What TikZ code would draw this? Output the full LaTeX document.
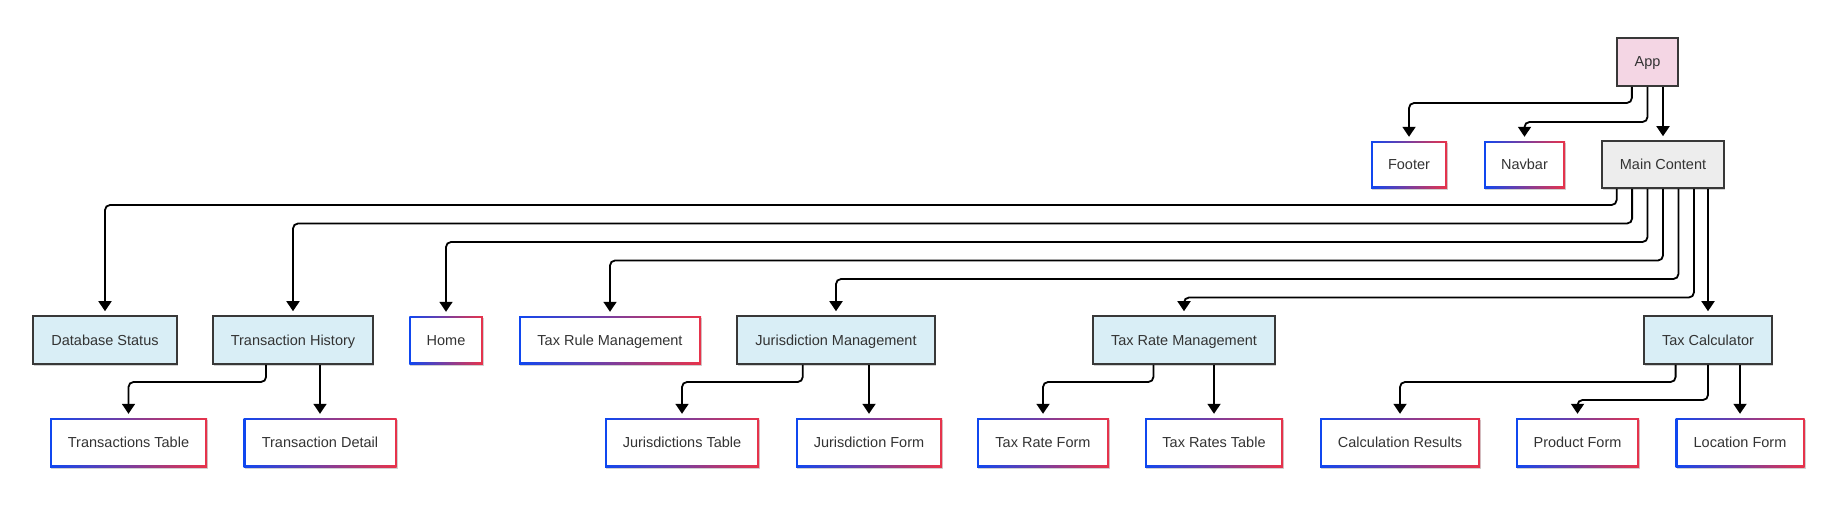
\documentclass[tikz,border=0pt]{standalone}
\usepackage{fontspec}
\setmainfont{Liberation Sans}
\usetikzlibrary{calc,arrows.meta,shadows}
\definecolor{bord}{HTML}{383838}
\definecolor{txt}{HTML}{333333}
\definecolor{appfill}{HTML}{F4D6E4}
\definecolor{mainfill}{HTML}{EDEDED}
\definecolor{pagefill}{HTML}{D9EEF6}
\definecolor{gblue}{HTML}{0F47F0}
\definecolor{gred}{HTML}{E8334A}
\tikzset{
  box/.style={rectangle, inner sep=0pt, font=\fontsize{14.5}{17}\selectfont, text=txt,
    text height=13.1pt, text depth=3.1pt},
  solidbox/.style={box, draw=bord, line width=1.6pt,
    drop shadow={shadow xshift=1pt, shadow yshift=-1.5pt, opacity=0.18, fill=black}},
  appbox/.style={solidbox, fill=appfill},
  mainbox/.style={solidbox, fill=mainfill},
  pagebox/.style={solidbox, fill=pagefill},
  gbox/.style={box, fill=white,
    drop shadow={shadow xshift=1pt, shadow yshift=-1.5pt, opacity=0.18, fill=black},
    path picture={
      \shade[left color=gblue, right color=gred]
        (path picture bounding box.south west) rectangle (path picture bounding box.north east);
      \fill[white] ([shift={(2pt,2pt)}]path picture bounding box.south west)
        rectangle ([shift={(-2pt,-2pt)}]path picture bounding box.north east);
    }},
  conn/.style={draw=black, line width=1.8pt, rounded corners=5pt,
    -{Triangle[length=10pt,width=13pt]}, shorten >=4pt}
}
\newcommand{\mylink}[5]{%
  \draw[conn] let \p1=($(#1.south west)!#2/#3!(#1.south east)$), \p2=(#5.north) in
    (\p1) -- (\x1,-#4pt) -- (\x2,-#4pt) -- (\p2);}
\begin{document}
\begin{tikzpicture}[x=1pt,y=-1pt]
\fill[white] (0,0) rectangle (1846,524);
\useasboundingbox (0,0) rectangle (1846,524);
% row A
\node[appbox, minimum width=61pt, minimum height=48pt] (app) at (1647.5,62) {App};
% row B
\node[gbox, minimum width=76pt, minimum height=47pt] (footer) at (1409,164.5) {Footer};
\node[gbox, minimum width=81pt, minimum height=47pt] (navbar) at (1524.5,164.5) {Navbar};
\node[mainbox, minimum width=122pt, minimum height=47pt] (main) at (1663,164.5) {Main Content};
% row C
\node[pagebox, minimum width=144pt, minimum height=48pt] (dbs) at (105,340) {Database Status};
\node[pagebox, minimum width=160pt, minimum height=48pt] (th) at (293,340) {Transaction History};
\node[gbox, minimum width=73.5pt, minimum height=48pt] (home) at (446,340) {Home};
\node[gbox, minimum width=182pt, minimum height=48pt] (trm) at (610,340) {Tax Rule Management};
\node[pagebox, minimum width=198pt, minimum height=48pt] (jm) at (836,340) {Jurisdiction Management};
\node[pagebox, minimum width=182pt, minimum height=48pt] (trate) at (1184,340) {Tax Rate Management};
\node[pagebox, minimum width=128pt, minimum height=48pt] (tc) at (1708,340) {Tax Calculator};
% row D
\node[gbox, minimum width=157pt, minimum height=49pt] (tt) at (128.5,442.5) {Transactions Table};
\node[gbox, minimum width=153pt, minimum height=49pt] (td) at (320,442.5) {Transaction Detail};
\node[gbox, minimum width=154pt, minimum height=49pt] (jt) at (682,442.5) {Jurisdictions Table};
\node[gbox, minimum width=146pt, minimum height=49pt] (jf) at (869,442.5) {Jurisdiction Form};
\node[gbox, minimum width=132pt, minimum height=49pt] (trf) at (1043,442.5) {Tax Rate Form};
\node[gbox, minimum width=138pt, minimum height=49pt] (rtt) at (1214,442.5) {Tax Rates Table};
\node[gbox, minimum width=160pt, minimum height=49pt] (cr) at (1400,442.5) {Calculation Results};
\node[gbox, minimum width=123pt, minimum height=49pt] (pf) at (1577.5,442.5) {Product Form};
\node[gbox, minimum width=129pt, minimum height=49pt] (lf) at (1740,442.5) {Location Form};
% connectors from App
\mylink{app}{1}{4}{103}{footer}
\mylink{app}{2}{4}{122}{navbar}
\draw[conn] (main.north |- app.south) -- (main.north);
% connectors from Main Content
\mylink{main}{1}{8}{205}{dbs}
\mylink{main}{2}{8}{223.5}{th}
\mylink{main}{3}{8}{242}{home}
\mylink{main}{4}{8}{260.5}{trm}
\mylink{main}{5}{8}{279}{jm}
\mylink{main}{6}{8}{297.5}{trate}
\draw[conn] (tc.north |- main.south) -- (tc.north);
% second level
\mylink{th}{1}{3}{382}{tt}
\draw[conn] (td.north |- th.south) -- (td.north);
\mylink{jm}{1}{3}{382}{jt}
\draw[conn] (jf.north |- jm.south) -- (jf.north);
\mylink{trate}{1}{3}{382}{trf}
\draw[conn] (rtt.north |- trate.south) -- (rtt.north);
\mylink{tc}{1}{4}{382}{cr}
\mylink{tc}{2}{4}{400}{pf}
\draw[conn] (lf.north |- tc.south) -- (lf.north);
\end{tikzpicture}
\end{document}
